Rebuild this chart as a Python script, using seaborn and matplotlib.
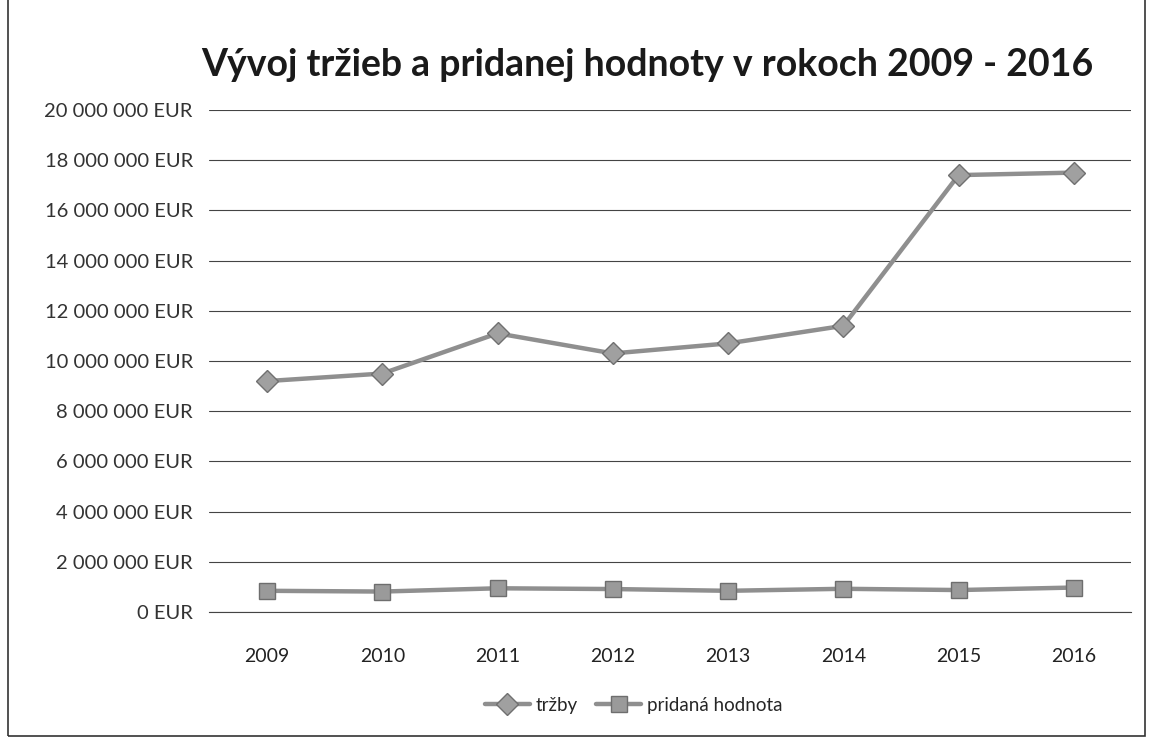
import pandas as pd
import matplotlib.pyplot as plt
import matplotlib.ticker as mticker
from matplotlib.patches import Rectangle
import seaborn as sns

# --------------------------
# Data
# --------------------------
years = ["2009", "2010", "2011", "2012", "2013", "2014", "2015", "2016"]
trzby = [9_200_000, 9_500_000, 11_100_000, 10_300_000, 10_700_000, 11_400_000, 17_400_000, 17_500_000]
pridana_hodnota = [850_000, 820_000, 950_000, 920_000, 850_000, 930_000, 880_000, 980_000]

title = "Vývoj tržieb a pridanej hodnoty v rokoch 2009 - 2016"

df = pd.DataFrame({"rok": years, "tržby": trzby, "pridaná hodnota": pridana_hodnota})

sns.set_theme(style="white")
plt.rcParams["font.family"] = ["Lato", "DejaVu Sans"]

fig, ax = plt.subplots(figsize=(11.51, 7.42), dpi=100)
fig.subplots_adjust(left=0.182, right=0.983, top=0.852, bottom=0.175)

sns.lineplot(data=df, x="rok", y="tržby", ax=ax, color="#8f8f8f", lw=3.2,
             marker="D", markersize=11, markeredgecolor="#707070", markeredgewidth=1,
             markerfacecolor="#a0a0a0", label="tržby")
sns.lineplot(data=df, x="rok", y="pridaná hodnota", ax=ax, color="#8f8f8f", lw=3.2,
             marker="s", markersize=12, markeredgecolor="#6e6e6e", markeredgewidth=1,
             markerfacecolor="#9a9a9a", label="pridaná hodnota")

ax.set_xlim(-0.5, len(years) - 0.5)
ax.set_ylim(0, 20_000_000)
ax.yaxis.set_major_locator(mticker.MultipleLocator(2_000_000))
ax.yaxis.set_major_formatter(mticker.FuncFormatter(
    lambda v, p: f"{int(v):,}".replace(",", " ") + " EUR"))
ax.grid(axis="y", color="#444444", lw=0.8)
ax.set_axisbelow(True)
for s in ["top", "right", "left"]:
    ax.spines[s].set_visible(False)
ax.spines["bottom"].set_color("#444444")
ax.spines["bottom"].set_linewidth(0.8)

ax.tick_params(axis="y", labelsize=14.5, labelcolor="#333333", pad=12, length=0)
ax.tick_params(axis="x", labelsize=14, labelcolor="#222222", pad=26, length=0)
ax.set_xlabel("")
ax.set_ylabel("")

fig.text(0.562, 0.912, title, ha="center", va="center", fontsize=27,
         fontweight="bold", color="#1a1a1a")

ax.legend(loc="upper center", bbox_to_anchor=(0.46, -0.135), ncol=2, frameon=False,
          fontsize=13.5, handlelength=2.4, columnspacing=1.0, handletextpad=0.3)

# outer chart border
fig.add_artist(Rectangle((0.007, 0.008), 0.988, 1.2, transform=fig.transFigure,
                         fill=False, edgecolor="#333333", lw=1.2))

plt.savefig("out.png", dpi=100)
plt.close()
